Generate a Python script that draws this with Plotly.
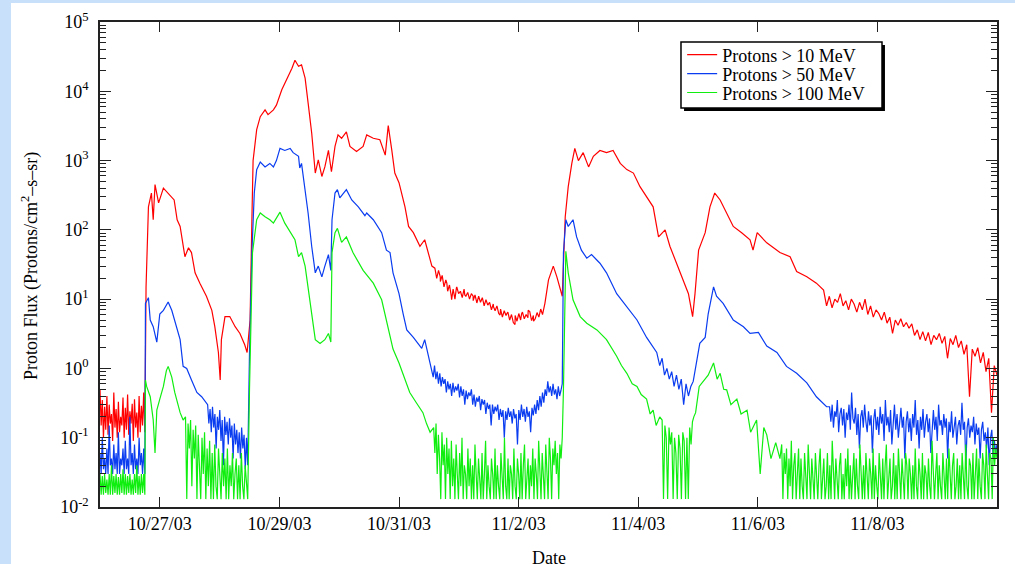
import numpy as np
import pandas as pd
import plotly.graph_objects as go

# Event start (day 0) and axis layout
START = pd.Timestamp("2003-10-26")
tick_dates = ["2003-10-27", "2003-10-29", "2003-10-31", "2003-11-02",
              "2003-11-04", "2003-11-06", "2003-11-08"]
tick_text = ["10/27/03", "10/29/03", "10/31/03", "11/2/03",
             "11/4/03", "11/6/03", "11/8/03"]
decades = [1e-2, 1e-1, 1e0, 1e1, 1e2, 1e3, 1e4, 1e5]
decade_text = ["10<sup>-2</sup>", "10<sup>-1</sup>", "10<sup>0</sup>", "10<sup>1</sup>",
               "10<sup>2</sup>", "10<sup>3</sup>", "10<sup>4</sup>", "10<sup>5</sup>"]

# ---- Protons > 10 MeV (days since 10/26/03 00:00, flux) ----
red_day = [0.77, 0.81, 0.86, 0.89, 0.92, 0.98, 1.06, 1.14, 1.24, 1.29,
           1.34, 1.42, 1.48, 1.53, 1.59, 1.67, 1.78, 1.87, 1.92, 1.98,
           2.01, 2.03, 2.09, 2.17, 2.26, 2.34, 2.42, 2.46, 2.51, 2.54,
           2.56, 2.62, 2.68, 2.76, 2.81, 2.90, 2.95, 3.04, 3.12, 3.21,
           3.26, 3.32, 3.37, 3.43, 3.48, 3.54, 3.60, 3.65, 3.71, 3.76,
           3.82, 3.87, 3.93, 3.98, 4.04, 4.12, 4.18, 4.29, 4.40, 4.46,
           4.57, 4.68, 4.77, 4.82, 4.88, 4.93, 5.00, 5.10, 5.16, 5.24,
           5.35, 5.43, 5.55, 5.69, 5.80, 5.88, 5.96, 6.10, 6.24, 6.41,
           6.58, 6.69, 6.80, 6.94, 7.05, 7.16, 7.25, 7.36, 7.44, 7.50,
           7.58, 7.64, 7.69, 7.73, 7.78, 7.83, 7.89, 7.94, 8.00, 8.08,
           8.17, 8.25, 8.36, 8.47, 8.58, 8.70, 8.81, 8.92, 9.03, 9.14,
           9.25, 9.34, 9.45, 9.53, 9.64, 9.75, 9.84, 9.91, 9.95, 10.01,
           10.12, 10.20, 10.28, 10.37, 10.48, 10.59, 10.73, 10.87, 10.92, 10.99,
           11.15, 11.37, 11.54, 11.65, 11.82, 11.98, 12.10]
red_flux = [15, 215, 340, 140, 450, 245, 400, 340, 270, 140,
            112, 41, 55, 47, 24, 17, 11, 6.9, 4.0, 1.7,
            0.68, 2.6, 5.6, 5.6, 4.0, 3.2, 2.2, 1.7, 5, 140,
            1000, 2800, 4300, 5400, 4600, 5400, 6300, 10500, 14500, 21500,
            28000, 23000, 24000, 15500, 6800, 2500, 660, 1020, 590, 810,
            1400, 690, 1600, 2350, 2100, 2600, 1600, 1350, 1600, 2350,
            2100, 2000, 1200, 3200, 1400, 660, 480, 215, 112, 91,
            58, 72, 30, 21, 17, 9.8, 14.5, 11.5, 11, 9.1,
            7.8, 5.9, 6.1, 4.3, 6.1, 6.9, 4.8, 6.9, 8.7, 19,
            30, 21, 15, 11, 155, 420, 910, 1500, 1000, 1300,
            810, 1150, 1400, 1300, 1400, 910, 740, 660, 420, 300,
            215, 79, 100, 58, 33, 19, 12, 5.6, 12, 51,
            91, 215, 340, 270, 175, 112, 91, 72, 51, 91,
            65, 47, 41, 25, 21, 17, 13.5]
red_pre_span = (0.0, 0.75)
red_pre = [0.5, 0.15, 0.35, 0.1, 0.28, 0.13, 0.4, 0.11, 0.3, 0.16,
           0.22, 0.09, 0.45, 0.14, 0.26, 0.1, 0.33, 0.12, 0.2, 0.15,
           0.38, 0.1, 0.27, 0.13, 0.42, 0.11, 0.24, 0.16, 0.31, 0.09,
           0.36, 0.14, 0.23, 0.1, 0.4, 0.12, 0.29, 0.15, 0.45, 0.12]
red_mid_span = (5.60, 7.40)
red_mid = [28, 20, 26, 18, 22, 15, 19, 13, 16, 11,
           14, 10, 15, 12, 13, 10.5, 14, 11, 12.5, 10,
           12, 9.5, 11.5, 8.8, 11, 9, 10.5, 8, 9.8, 8.2,
           9, 7, 8.5, 6.8, 8, 6.2, 7.2, 5.5, 6.8, 5.8,
           6.5, 5, 6, 4.6, 5.8, 4.8, 6.2, 5, 6.5, 5.2,
           6, 5.4, 6.6, 4.9, 5.8, 5.2, 6.4, 5.5, 7.2, 6]
red_late_span = (12.15, 15.0)
red_late = [8, 11, 7.5, 10, 9, 12, 8, 9.5, 7, 10,
            8.5, 6.5, 9, 7, 10, 6, 8, 5.5, 7, 6.2,
            5, 6.5, 4.5, 5.5, 3.2, 5, 4.2, 5.2, 4, 4.6,
            3.8, 4.4, 3, 3.6, 2.6, 3.4, 2.5, 3.3, 2.2, 3,
            2.6, 3.2, 2.3, 2.9, 1.4, 2.7, 2.2, 3, 2, 2.5,
            1.6, 2.2, 0.39, 1.9, 1.5, 2, 1.2, 1.7, 0.9, 1.4,
            0.23, 1.1, 0.8]

# ---- Protons > 50 MeV ----
blue_day = [0.76, 0.81, 0.84, 0.89, 0.95, 1.00, 1.06, 1.14, 1.20, 1.28,
            1.34, 1.39, 1.45, 1.53, 1.62, 1.70, 1.78,
            2.50, 2.54, 2.58, 2.62, 2.68, 2.76, 2.84, 2.90, 2.95, 3.01,
            3.09, 3.18, 3.23, 3.32, 3.34, 3.37, 3.43, 3.48, 3.54, 3.60,
            3.65, 3.71, 3.76, 3.82, 3.86, 3.88, 3.93, 3.97, 4.01, 4.07,
            4.12, 4.21, 4.32, 4.43, 4.46, 4.57, 4.71, 4.79, 4.85, 4.90,
            5.00, 5.07, 5.13, 5.24, 5.38, 5.43, 5.52,
            7.75, 7.79, 7.83, 7.91, 7.97, 8.05, 8.14, 8.22, 8.36, 8.47,
            8.64, 8.81, 8.98, 9.14, 9.31, 9.36, 9.40, 9.44, 9.48, 9.52,
            9.56, 9.60, 9.64, 9.68, 9.72, 9.76, 9.80, 9.84, 9.88, 9.92,
            9.98, 10.03, 10.12, 10.17, 10.26, 10.31, 10.42, 10.59, 10.76, 10.87,
            11.01, 11.15, 11.32, 11.48, 11.65, 11.82, 11.98, 12.15]
blue_flux = [8.7, 10.5, 5, 4.0, 2.4, 6.1, 6.9, 9.1, 6.9, 4.0,
             2.6, 1.07, 1.0, 0.68, 0.45, 0.39, 0.32,
             1.7, 47, 340, 740, 950, 810, 910, 810, 1000, 1500,
             1400, 1500, 1300, 1150, 780, 910, 380, 175, 58, 24,
             30, 21, 30, 44, 26, 140, 340, 380, 290, 340,
             380, 270, 215, 160, 175, 140, 91, 51, 47, 24,
             12, 6.1, 3.6, 2.8, 1.95, 2.6, 1.2,
             47, 140, 112, 140, 79, 51, 39, 44, 33, 24,
             12, 7.8, 5, 2.8, 1.7, 1.1, 1.4, 0.8, 1.0, 0.7,
             0.9, 0.55, 0.8, 0.5, 0.7, 0.3, 0.6, 0.4, 0.55, 0.65,
             1.3, 2.3, 2.8, 6.1, 15, 11, 8.7, 5, 4.0, 3.2,
             3.3, 2.1, 1.7, 1.07, 0.85, 0.62, 0.39, 0.28]
blue_pre_span = (0.0, 0.75)
blue_pre = [0.06, 0.03, 0.1, 0.035, 0.05, 0.03, 0.07, 0.03, 0.15, 0.04,
            0.05, 0.03, 0.08, 0.035, 0.06, 0.03, 0.12, 0.03, 0.05, 0.04,
            0.07, 0.03, 0.09, 0.035, 0.05, 0.03, 0.2, 0.04, 0.06, 0.03,
            0.08, 0.035, 0.05, 0.03, 0.1, 0.04, 0.06, 0.03, 0.07, 0.03]
blue_mid1_span = (1.80, 2.47)
blue_mid1 = [0.3, 0.16, 0.26, 0.12, 0.28, 0.14, 0.22, 0.07, 0.2, 0.13,
             0.25, 0.09, 0.18, 0.04, 0.2, 0.11, 0.17, 0.08, 0.19, 0.1,
             0.15, 0.05, 0.16, 0.08, 0.13, 0.06, 0.12, 0.05, 0.14, 0.07,
             0.11, 0.035, 0.1, 0.04]
blue_mid2_span = (5.55, 7.73)
blue_mid2 = [1.0, 0.75, 1.1, 0.7, 0.9, 0.6, 0.85, 0.55, 0.75, 0.6,
             0.7, 0.45, 0.65, 0.5, 0.6, 0.4, 0.62, 0.45, 0.55, 0.48,
             0.6, 0.38, 0.55, 0.4, 0.5, 0.3, 0.48, 0.36, 0.45, 0.4,
             0.5, 0.3, 0.42, 0.28, 0.38, 0.33, 0.4, 0.25, 0.36, 0.3,
             0.35, 0.22, 0.32, 0.26, 0.3, 0.15, 0.3, 0.22, 0.28, 0.24,
             0.3, 0.18, 0.26, 0.2, 0.25, 0.1, 0.24, 0.18, 0.27, 0.2,
             0.24, 0.16, 0.26, 0.19, 0.22, 0.08, 0.25, 0.18, 0.3, 0.2,
             0.26, 0.17, 0.28, 0.2, 0.24, 0.12, 0.27, 0.21, 0.3, 0.22,
             0.35, 0.25, 0.4, 0.28, 0.45, 0.32, 0.5, 0.4, 0.65, 0.45,
             0.55, 0.4, 0.6, 0.42, 0.5, 0.36, 0.55, 0.4, 0.48, 0.6]
blue_late_span = (12.2, 15.0)
blue_late = [0.28, 0.17, 0.3, 0.14, 0.24, 0.2, 0.35, 0.12, 0.22, 0.27,
             0.15, 0.26, 0.1, 0.23, 0.18, 0.3, 0.13, 0.45, 0.19, 0.16,
             0.27, 0.11, 0.22, 0.07, 0.2, 0.25, 0.14, 0.3, 0.17, 0.12,
             0.24, 0.15, 0.21, 0.06, 0.18, 0.26, 0.13, 0.2, 0.11, 0.28,
             0.16, 0.22, 0.09, 0.35, 0.15, 0.2, 0.12, 0.25, 0.08, 0.18,
             0.3, 0.13, 0.22, 0.1, 0.19, 0.27, 0.14, 0.2, 0.05, 0.17,
             0.24, 0.12, 0.19, 0.09, 0.22, 0.14, 0.35, 0.11, 0.18, 0.07,
             0.2, 0.13, 0.26, 0.1, 0.17, 0.22, 0.12, 0.19, 0.06, 0.16,
             0.25, 0.13, 0.2, 0.09, 0.3, 0.15, 0.18, 0.11, 0.22, 0.14,
             0.19, 0.05, 0.17, 0.12, 0.24, 0.1, 0.16, 0.2, 0.08, 0.15,
             0.18, 0.11, 0.32, 0.13, 0.17, 0.04, 0.14, 0.19, 0.1, 0.15,
             0.12, 0.2, 0.08, 0.16, 0.11, 0.14, 0.05, 0.13, 0.17, 0.09,
             0.12, 0.07, 0.14, 0.04, 0.1, 0.13, 0.05, 0.09, 0.06, 0.08]

# ---- Protons > 100 MeV ----
green_day = [0.76, 0.78, 0.84, 0.89, 0.92, 0.95, 1.00, 1.06, 1.11, 1.14,
             1.20, 1.25, 1.34, 1.39,
             2.50, 2.52, 2.55, 2.62, 2.68, 2.76, 2.84, 2.90, 2.95, 3.01,
             3.09, 3.18, 3.26, 3.32, 3.37, 3.43, 3.48, 3.54, 3.60, 3.68,
             3.76, 3.82, 3.86, 3.88, 3.93, 3.97, 4.04, 4.12, 4.23, 4.40,
             4.57, 4.71, 4.79, 4.90, 5.00, 5.10, 5.18, 5.29, 5.40, 5.46, 5.52,
             7.75, 7.77, 7.79, 7.83, 7.91, 8.03, 8.14, 8.31, 8.47, 8.64,
             8.72, 8.81, 8.90, 8.98, 9.05, 9.14, 9.20, 9.25, 9.30, 9.36,
             9.96, 10.02, 10.10, 10.17, 10.26, 10.32, 10.37, 10.43, 10.48, 10.55,
             10.65, 10.72, 10.82, 10.88, 10.98, 11.04, 11.10, 11.15, 11.22, 11.30, 11.37]
green_flux = [0.68, 0.55, 0.39, 0.18, 0.06, 0.25, 0.36, 0.55, 0.93, 1.07,
              0.75, 0.45, 0.23, 0.18,
              0.5, 5, 47, 140, 175, 155, 140, 125, 150, 180,
              125, 91, 72, 41, 47, 30, 15, 6.1, 2.6, 2.3,
              2.6, 3.2, 2.4, 47, 91, 105, 66, 79, 47, 26,
              17, 9.8, 5, 1.9, 1.2, 0.68, 0.45, 0.32, 0.23, 0.16, 0.12,
              0.5, 10, 49, 24, 9.8, 5.6, 4.5, 3.6, 2.6, 1.5,
              1.1, 0.85, 0.6, 0.55, 0.42, 0.36, 0.22, 0.25, 0.15, 0.2,
              0.23, 0.55, 0.68, 0.8, 1.2, 0.7, 0.85, 0.5, 0.49, 0.3,
              0.36, 0.22, 0.25, 0.12, 0.18, 0.03, 0.14, 0.11, 0.05, 0.085, 0.05]
green_pre_span = (0.0, 0.75)
green_pre = [0.03, 0.015, 0.028, 0.015, 0.03, 0.016, 0.025, 0.015, 0.03, 0.015,
             0.04, 0.015, 0.028, 0.016, 0.03, 0.015, 0.027, 0.015, 0.03, 0.016,
             0.035, 0.015, 0.03, 0.015, 0.028, 0.016, 0.03, 0.015, 0.025, 0.015,
             0.03, 0.016, 0.04, 0.015, 0.028, 0.015, 0.03, 0.016, 0.03, 0.015]
green_mid1_span = (1.43, 2.47)
green_mid1 = [0.2, 0.013, 0.16, 0.07, 0.18, 0.02, 0.13, 0.05, 0.15, 0.013,
              0.11, 0.04, 0.013, 0.1, 0.03, 0.12, 0.013, 0.07, 0.02, 0.09,
              0.013, 0.06, 0.013, 0.08, 0.02, 0.013, 0.07, 0.03, 0.013, 0.06,
              0.02, 0.05, 0.013, 0.07, 0.013, 0.04, 0.02, 0.06, 0.013, 0.03,
              0.05, 0.013, 0.04, 0.013, 0.06, 0.02, 0.013, 0.04, 0.02, 0.013]
green_mid2_span = (5.58, 7.73)
green_mid2 = [0.14, 0.06, 0.16, 0.03, 0.11, 0.05, 0.013, 0.12, 0.04, 0.08,
              0.013, 0.1, 0.03, 0.07, 0.013, 0.09, 0.02, 0.05, 0.013, 0.08,
              0.03, 0.013, 0.06, 0.02, 0.1, 0.013, 0.04, 0.03, 0.013, 0.07,
              0.02, 0.05, 0.013, 0.04, 0.013, 0.08, 0.03, 0.013, 0.05, 0.02,
              0.013, 0.06, 0.013, 0.03, 0.09, 0.013, 0.04, 0.02, 0.013, 0.05,
              0.03, 0.013, 0.07, 0.013, 0.04, 0.02, 0.013, 0.06, 0.03, 0.013,
              0.1, 0.02, 0.013, 0.05, 0.013, 0.04, 0.03, 0.013, 0.07, 0.02,
              0.013, 0.05, 0.03, 0.013, 0.06, 0.013, 0.04, 0.08, 0.013, 0.03,
              0.05, 0.013, 0.04, 0.02, 0.07, 0.013, 0.05, 0.03, 0.013, 0.09,
              0.04, 0.013, 0.06, 0.03, 0.013, 0.08, 0.04, 0.013, 0.1, 0.05,
              0.013, 0.07, 0.04, 0.09, 0.03, 0.06, 0.013, 0.08, 0.05, 0.1]
green_dip_span = (9.40, 9.93)
green_dip = [0.18, 0.013, 0.15, 0.1, 0.013, 0.14, 0.08, 0.12, 0.013, 0.1,
             0.06, 0.013, 0.11, 0.07, 0.013, 0.12, 0.09, 0.013, 0.1, 0.013,
             0.14, 0.08, 0.17, 0.2]
green_late_span = (11.40, 15.0)
green_late = [0.08, 0.013, 0.06, 0.03, 0.07, 0.013, 0.05, 0.02, 0.09, 0.013,
              0.04, 0.06, 0.013, 0.03, 0.07, 0.013, 0.05, 0.02, 0.013, 0.06,
              0.03, 0.013, 0.08, 0.04, 0.013, 0.05, 0.02, 0.013, 0.06, 0.03,
              0.013, 0.04, 0.07, 0.013, 0.03, 0.05, 0.013, 0.02, 0.06, 0.013,
              0.04, 0.013, 0.09, 0.03, 0.013, 0.05, 0.02, 0.013, 0.04, 0.06,
              0.013, 0.03, 0.013, 0.05, 0.02, 0.07, 0.013, 0.04, 0.013, 0.03,
              0.06, 0.013, 0.05, 0.02, 0.013, 0.08, 0.03, 0.013, 0.04, 0.013,
              0.06, 0.02, 0.013, 0.05, 0.03, 0.013, 0.07, 0.013, 0.04, 0.02,
              0.013, 0.06, 0.03, 0.013, 0.05, 0.013, 0.04, 0.08, 0.013, 0.03,
              0.05, 0.013, 0.02, 0.06, 0.013, 0.04, 0.013, 0.07, 0.03, 0.013,
              0.05, 0.02, 0.013, 0.06, 0.04, 0.013, 0.05, 0.03, 0.013, 0.04,
              0.013, 0.07, 0.02, 0.013, 0.05, 0.03, 0.013, 0.06, 0.013, 0.04,
              0.03, 0.013, 0.05, 0.02, 0.013, 0.09, 0.04, 0.013, 0.03, 0.06,
              0.013, 0.04, 0.02, 0.013, 0.06, 0.03, 0.013, 0.05, 0.013, 0.07,
              0.03, 0.013, 0.04, 0.06, 0.013, 0.02, 0.05, 0.013, 0.04, 0.013,
              0.06, 0.03, 0.013, 0.08, 0.02, 0.013, 0.05, 0.04, 0.013, 0.06,
              0.013, 0.03, 0.07, 0.013, 0.05, 0.02, 0.013, 0.06, 0.04, 0.013,
              0.08, 0.03, 0.013, 0.06, 0.05, 0.013, 0.1, 0.04, 0.07, 0.05]


def build_series(days, flux, noisy):
    """Merge key points with the noisy stretches (read values on an even time grid)."""
    d = list(days)
    f = list(flux)
    for (t0, t1), vals in noisy:
        d += list(np.linspace(t0, t1, len(vals)))
        f += list(vals)
    order = np.argsort(d)
    d = np.array(d)[order]
    f = np.array(f)[order]
    return START + pd.to_timedelta(d, unit="D"), f


series = [
    ("Protons > 10 MeV", "#ff0000", "legend",
     build_series(red_day, red_flux, [(red_pre_span, red_pre), (red_mid_span, red_mid),
                                      (red_late_span, red_late)])),
    ("Protons > 50 MeV", "#0a3cf0", "legend2",
     build_series(blue_day, blue_flux, [(blue_pre_span, blue_pre), (blue_mid1_span, blue_mid1),
                                        (blue_mid2_span, blue_mid2), (blue_late_span, blue_late)])),
    ("Protons > 100 MeV", "#10ee10", "legend3",
     build_series(green_day, green_flux, [(green_pre_span, green_pre), (green_mid1_span, green_mid1),
                                          (green_mid2_span, green_mid2), (green_dip_span, green_dip),
                                          (green_late_span, green_late)])),
]

FONT = "Liberation Serif, Times New Roman, serif"

fig = go.Figure()
for name, color, leg, (x, y) in series:
    fig.add_trace(go.Scatter(x=x, y=y, mode="lines", name=name, legend=leg,
                             line=dict(color=color, width=1.2)))

minor_vals = [m * d for d in decades[:-1] for m in range(2, 10)]


def legend_row(ypos):
    # one legend per entry so the rows can sit as tightly as in the original
    return dict(x=0.649, y=ypos, xanchor="left", yanchor="middle",
                bgcolor="rgba(0,0,0,0)", borderwidth=0,
                font=dict(family=FONT, size=18), itemwidth=30)


fig.update_layout(
    width=1015, height=564,
    margin=dict(l=100, r=18, t=22, b=57, autoexpand=False),
    paper_bgcolor="white", plot_bgcolor="white",
    font=dict(family=FONT, size=18, color="black"),
    showlegend=True,
    legend=legend_row(0.932),
    legend2=legend_row(0.893),
    legend3=legend_row(0.854),
    xaxis=dict(type="date", range=["2003-10-26", "2003-11-10"],
               tickmode="array", tickvals=tick_dates, ticktext=tick_text,
               ticks="inside", ticklen=10, tickwidth=1.2, tickcolor="#222",
               showline=True, linecolor="#222", linewidth=1.5, mirror="ticks",
               showgrid=False, zeroline=False, automargin=False,
               ticklabelstandoff=0),
    yaxis=dict(type="log", range=[-2, 5],
               tickmode="array", tickvals=decades, ticktext=decade_text,
               ticks="inside", ticklen=11, tickwidth=1.2, tickcolor="#222",
               minor=dict(tickmode="array", tickvals=minor_vals, ticks="inside",
                          ticklen=6, tickwidth=1, tickcolor="#222"),
               showline=True, linecolor="#222", linewidth=1.5, mirror="ticks",
               showgrid=False, zeroline=False, automargin=False,
               ticklabelstandoff=6),
    annotations=[
        dict(text="Proton Flux (Protons/cm<sup>2</sup>–s–sr)", textangle=-90,
             xref="paper", yref="paper", x=-0.0775, y=0.498,
             xanchor="center", yanchor="middle", showarrow=False,
             font=dict(family=FONT, size=18)),
        dict(text="Date", xref="paper", yref="paper", x=0.5, y=-0.105,
             xanchor="center", yanchor="middle", showarrow=False,
             font=dict(family=FONT, size=18)),
    ],
    shapes=[
        # light-blue page frame at the left and top edges
        dict(type="rect", xref="paper", yref="paper", layer="below",
             x0=-0.1115, x1=-0.0992, y0=-0.12, y1=1.05,
             fillcolor="#c9e0fa", line=dict(width=0)),
        dict(type="rect", xref="paper", yref="paper", layer="below",
             x0=-0.1115, x1=1.03, y0=1.039, y1=1.05,
             fillcolor="#c9e0fa", line=dict(width=0)),
        # legend box with its drop shadow
        dict(type="rect", xref="paper", yref="paper", layer="above",
             x0=0.6511, x1=0.8751, y0=0.8165, y1=0.9526,
             fillcolor="black", line=dict(width=0)),
        dict(type="rect", xref="paper", yref="paper", layer="above",
             x0=0.6477, x1=0.8718, y0=0.8227, y1=0.9588,
             fillcolor="white", line=dict(color="black", width=1.5)),
    ],
)

# the page's default body margin would shift the figure by 8 px
fig.write_html("out.html", config={"displayModeBar": False},
               post_script="document.body.style.margin='0';")
